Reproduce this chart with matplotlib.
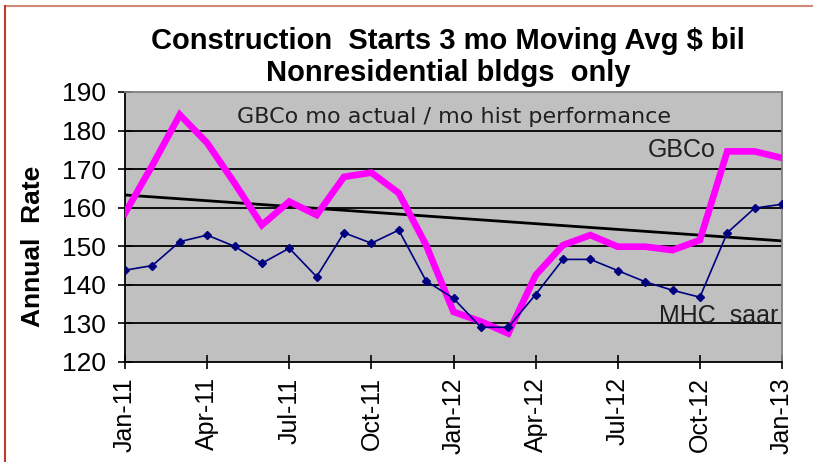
import numpy as np
import matplotlib
matplotlib.use("Agg")
import matplotlib.pyplot as plt
from matplotlib.lines import Line2D

# monthly, Jan-11 .. Jan-13
gbco = [158.6, 171.0, 184.1, 176.8, 166.4, 155.5, 161.6, 158.1, 168.0, 169.1,
        163.8, 150.3, 133.0, 130.5, 127.4, 142.5, 150.3, 152.9, 149.9, 149.9,
        149.0, 151.6, 174.6, 174.6, 172.9]
mhc_saar = [143.8, 145.0, 151.2, 152.9, 150.0, 145.6, 149.5, 142.1, 153.5, 150.8,
            154.2, 141.0, 136.5, 129.0, 129.0, 137.5, 146.6, 146.6, 143.7, 140.8,
            138.6, 136.8, 153.5, 159.9, 160.9]
trend_ends = [163.3, 151.4]
tick_labels = ["Jan-11", "Apr-11", "Jul-11", "Oct-11", "Jan-12",
               "Apr-12", "Jul-12", "Oct-12", "Jan-13"]
y_ticks = [120, 130, 140, 150, 160, 170, 180, 190]

plt.rcParams["font.family"] = ["Liberation Sans", "DejaVu Sans"]

fig = plt.figure(figsize=(8.13, 4.62), dpi=100)
ax = fig.add_axes([125 / 813, 1 - 362 / 462, 657 / 813, 270 / 462])
ax.set_facecolor("#c0c0c0")

x = np.arange(len(gbco))
for v in y_ticks[1:-1]:
    ax.axhline(v, color="black", lw=1.3, zorder=1)

ax.plot(x, gbco, color="#ff00ff", lw=4.8, solid_joinstyle="miter", zorder=3)
ax.plot(x, mhc_saar, color="#000080", lw=1.2, marker="D", ms=4.5, zorder=4)
ax.plot([x[0], x[-1]], trend_ends, color="black", lw=2.0, zorder=2)

ax.set_xlim(0, len(gbco) - 1)
ax.set_ylim(120, 190)
ax.set_yticks(y_ticks)
ax.set_xticks(np.arange(0, len(gbco), 3))
ax.set_xticklabels(tick_labels, rotation=90, fontsize=18)
ax.set_yticklabels([str(v) for v in y_ticks], fontsize=19)
ax.tick_params(direction="inout", length=10, width=1.2)
ax.tick_params(axis="y", pad=9)
ax.tick_params(axis="x", pad=6)

for side in ["left", "bottom"]:
    ax.spines[side].set_color("black")
    ax.spines[side].set_linewidth(1.3)
for side in ["top", "right"]:
    ax.spines[side].set_color("#808080")
    ax.spines[side].set_linewidth(1.3)

ax.text(0.5, 0.907, "GBCo mo actual / mo hist performance", transform=ax.transAxes,
        ha="center", va="center", fontsize=16, family="DejaVu Sans", color="#202020")
ax.text(0.848, 0.787, "GBCo", transform=ax.transAxes, ha="center", va="center",
        fontsize=18, color="#202020")
ax.text(0.995, 0.17, "MHC  saar", transform=ax.transAxes, ha="right", va="center",
        fontsize=18, color="#202020")

fig.text(448 / 813, 1 - 41 / 462, "Construction  Starts 3 mo Moving Avg $ bil",
         ha="center", va="center", fontsize=21, fontweight="bold")
fig.text(448 / 813, 1 - 73 / 462, "Nonresidential bldgs  only",
         ha="center", va="center", fontsize=21, fontweight="bold")
fig.text(33 / 813, 1 - 246 / 462, "Annual  Rate", rotation=90,
         ha="center", va="center", fontsize=19, fontweight="bold")

# frame around the picture
fig.add_artist(Line2D([5 / 813, 1], [1 - 6 / 462] * 2, color="#d08878", lw=1.5))
fig.add_artist(Line2D([5 / 813] * 2, [0, 1 - 6 / 462], color="#c0392b", lw=1.5))

fig.savefig("out.png", dpi=100)
